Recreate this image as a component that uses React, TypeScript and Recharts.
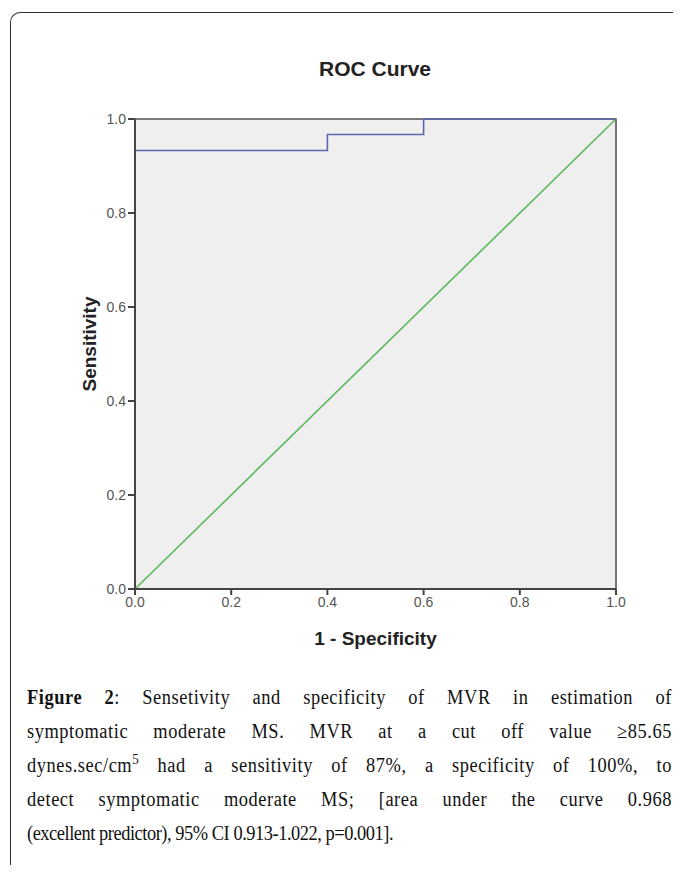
import React from 'react';
import {LineChart, Line, XAxis, YAxis, CartesianGrid, ReferenceArea} from 'recharts';

// ROC step curve (1 - specificity vs sensitivity)
const rocFpr = [0, 0, 0.4, 0.4, 0.6, 0.6, 1];
const rocSensitivity = [0, 0.933, 0.933, 0.967, 0.967, 1, 1];

// reference diagonal
const refFpr = [0, 1];
const refSensitivity = [0, 1];

const axisTicks = [0, 0.2, 0.4, 0.6, 0.8, 1];

const captionLines = [
    ['Figure 2', ': Sensetivity and specificity of MVR in estimation of'],
    ['', 'symptomatic moderate MS. MVR at a cut off value \u226585.65'],
    ['', 'dynes.sec/cm', '5', ' had a sensitivity of 87%, a specificity of 100%, to'],
    ['', 'detect symptomatic moderate MS; [area under the curve 0.968'],
    ['', '(excellent predictor), 95% CI 0.913-1.022, p=0.001].'],
];

const rocData = rocFpr.map((x, i) => ({x, y: rocSensitivity[i]}));
const refData = refFpr.map((x, i) => ({x, y: refSensitivity[i]}));

const sans = '"Liberation Sans", Arial, sans-serif';
const serif = '"Liberation Serif", "Times New Roman", serif';

const App = () => {
    return (
        <div style={{position: 'relative', width: 681, height: 873, margin: -8, overflow: 'hidden', background: '#fff'}}>
            <div style={{
                position: 'absolute', left: 10, top: 12, width: 700, height: 900,
                borderLeft: '1.5px solid #333', borderTop: '1.5px solid #333', borderTopLeftRadius: 10
            }}/>
            <div style={{
                position: 'absolute', left: 275, width: 200, top: 57, textAlign: 'center',
                fontFamily: sans, fontWeight: 'bold', fontSize: 21, color: '#222'
            }}>ROC Curve</div>
            <div style={{position: 'absolute', left: 0, top: 0}}>
                <LineChart width={681} height={700} margin={{top: 119, left: 79, right: 65, bottom: 71}}>
                    <CartesianGrid fill="#efefef" stroke="transparent"/>
                    <XAxis
                        type="number" dataKey="x" domain={[0, 1]} ticks={axisTicks} height={40}
                        tickFormatter={(v: number) => v.toFixed(1)}
                        axisLine={{stroke: '#444', strokeWidth: 2}} tickLine={{stroke: '#444', strokeWidth: 2}} tickSize={6}
                        tick={{fill: '#555', fontSize: 14, fontFamily: sans}}
                        label={{value: '1 - Specificity', position: 'bottom', offset: 3, fill: '#222', fontSize: 19, fontWeight: 'bold', fontFamily: sans}}
                    />
                    <YAxis
                        type="number" dataKey="y" domain={[0, 1]} ticks={axisTicks} width={56}
                        tickFormatter={(v: number) => v.toFixed(1)}
                        axisLine={{stroke: '#444', strokeWidth: 2}} tickLine={{stroke: '#444', strokeWidth: 2}} tickSize={7}
                        tick={{fill: '#555', fontSize: 14, fontFamily: sans}}
                        label={{value: 'Sensitivity', angle: -90, position: 'insideLeft', offset: 10, dy: -10, style: {textAnchor: 'middle'}, fill: '#222', fontSize: 19, fontWeight: 'bold', fontFamily: sans}}
                    />
                    <Line data={refData} dataKey="y" stroke="#5cb85c" strokeWidth={1.6} dot={false} isAnimationActive={false}/>
                    <Line data={rocData} dataKey="y" stroke="#5a67ad" strokeWidth={1.6} dot={false} isAnimationActive={false}/>
                    <ReferenceArea x1={0} x2={1} y1={0} y2={1} fill="none" stroke="#555" strokeWidth={1.6}/>
                </LineChart>
            </div>
            <div style={{
                position: 'absolute', left: 27, top: 680, width: 701, transform: 'scaleX(0.92)', transformOrigin: 'left top',
                fontFamily: serif, fontSize: 20, lineHeight: '34px', color: '#111'
            }}>
                {captionLines.map((parts, i) => {
                    const last = i === captionLines.length - 1;
                    return (
                        <div key={i} style={{
                            textAlign: 'justify', textAlignLast: last ? 'left' : 'justify',
                            whiteSpace: 'nowrap', letterSpacing: last ? -0.5 : 0.6
                        }}>
                            {parts[0] && <b>{parts[0]}</b>}
                            {parts.length === 4 ? <>{parts[1]}<sup style={{fontSize: 14, lineHeight: 0}}>{parts[2]}</sup>{parts[3]}</> : parts[1]}
                        </div>
                    );
                })}
            </div>
        </div>
    );
};

export default App;
